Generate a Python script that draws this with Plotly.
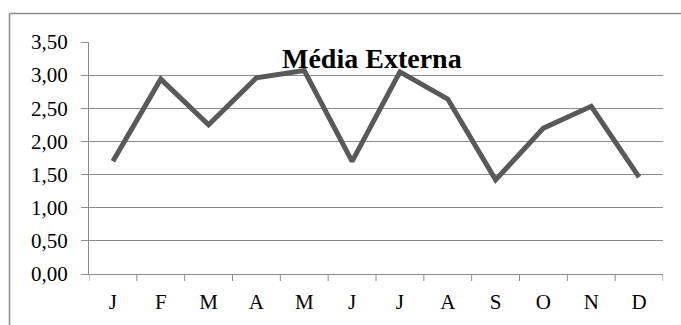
import plotly.graph_objects as go

# Monthly external average
months = ["J", "F", "M", "A", "M", "J", "J", "A", "S", "O", "N", "D"]
media_externa = [1.70, 2.94, 2.25, 2.96, 3.07, 1.70, 3.05, 2.64, 1.42, 2.20, 2.53, 1.46]
y_ticks = [0.0, 0.5, 1.0, 1.5, 2.0, 2.5, 3.0, 3.5]
y_tick_text = ["0,00", "0,50", "1,00", "1,50", "2,00", "2,50", "3,00", "3,50"]

x_idx = list(range(len(months)))

W, H = 681, 325
ML, MR, MT, MB = 89, 18, 42, 51
PW, PH = W - ML - MR, H - MT - MB

fig = go.Figure(
    go.Scatter(
        x=x_idx,
        y=media_externa,
        mode="lines",
        line=dict(color="#595959", width=5),
        hoverinfo="skip",
    )
)

grid_col = "#8c8c8c"
font_serif = "Liberation Serif"

fig.update_layout(
    width=W,
    height=H,
    margin=dict(l=ML, r=MR, t=MT, b=MB),
    paper_bgcolor="white",
    plot_bgcolor="white",
    showlegend=False,
    font=dict(family=font_serif, size=21, color="black"),
    xaxis=dict(
        range=[-0.5, len(months) - 0.5],
        tickmode="array",
        tickvals=x_idx,
        ticktext=months,
        showgrid=False,
        zeroline=False,
        showline=True,
        linecolor=grid_col,
        linewidth=1,
        ticks="",
        automargin=False,
        ticklabelstandoff=9,
        tickfont=dict(family=font_serif, size=21, color="black"),
    ),
    yaxis=dict(
        range=[0, 3.5],
        tickmode="array",
        tickvals=y_ticks,
        ticktext=y_tick_text,
        showgrid=True,
        gridcolor=grid_col,
        gridwidth=1,
        zeroline=False,
        showline=True,
        linecolor=grid_col,
        linewidth=1,
        ticks="outside",
        ticklen=7,
        tickcolor=grid_col,
        automargin=False,
        ticklabelstandoff=9,
        tickfont=dict(family=font_serif, size=21, color="black"),
    ),
)

# Boundary tick marks between month categories
shapes = []
for i in range(len(months) + 1):
    xb = i - 0.5
    shapes.append(dict(
        type="line", xref="x", yref="paper",
        x0=xb, x1=xb, y0=0, y1=-7 / PH,
        line=dict(color=grid_col, width=1),
    ))

# Outer chart frame (top and left edges)
fx0 = (9.5 - ML) / PW
fy1 = (PH + MT - 13.5) / PH
shapes.append(dict(
    type="line", xref="paper", yref="paper",
    x0=fx0, x1=(W + 5 - ML) / PW, y0=fy1, y1=fy1,
    line=dict(color=grid_col, width=1.5),
))
shapes.append(dict(
    type="line", xref="paper", yref="paper",
    x0=fx0, x1=fx0, y0=fy1, y1=-(MB + 5) / PH,
    line=dict(color=grid_col, width=1.5),
))
fig.update_layout(shapes=shapes)

fig.add_annotation(
    text="<b>Média Externa</b>",
    xref="paper", yref="paper",
    x=(372 - ML) / PW, y=(274 - 58) / PH,
    xanchor="center", yanchor="middle",
    showarrow=False,
    font=dict(family=font_serif, size=28, color="black"),
)

fig.write_html("out.html")
